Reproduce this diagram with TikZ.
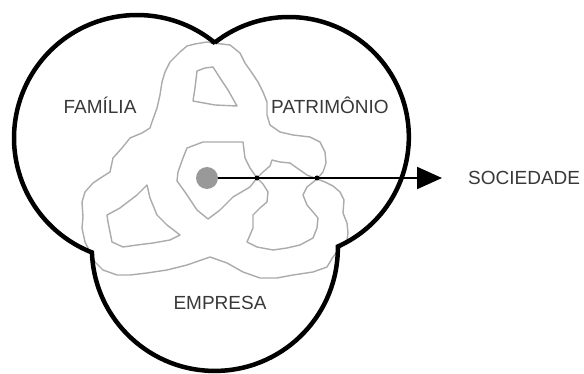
\documentclass[tikz,border=0pt]{standalone}
\usepackage{fontspec}
\setmainfont{Liberation Sans}
\usetikzlibrary{calc,arrows.meta,positioning}
\tikzset{
    circulo/.style={draw,line width=4.5pt,line join=miter},
    lazo/.style={draw=black!33,line width=1.4pt,line join=round},
    rotulo/.style={text=black!78,inner sep=0pt,font=\fontsize{19}{22}\selectfont},
    flecha/.style={draw,line width=2pt,-{Triangle[length=25pt,width=22pt]}},
    punto/.style={circle,fill=black!40,minimum size=22pt,inner sep=0pt},
    cruce/.style={circle,fill,minimum size=5pt,inner sep=0pt},
}
\begin{document}
\begin{tikzpicture}[x=1pt,y=-1pt]
    \useasboundingbox (0,0) rectangle (584,374);
    \coordinate (cfam) at (137,138);
    \coordinate (cpat) at (289,137);
    \coordinate (cemp) at (215,248);

    \path [lazo] (213,43) -- (207,42) -- (195,44) -- (187,46) -- (180,52) -- (170,62) -- (165,72)
        -- (162,82) -- (160,95) -- (157,108) -- (152,122) -- (150,128) -- (142,133) -- (130,138)
        -- (122,148) -- (113,158) -- (110,172) -- (102,177) -- (93,183) -- (85,192) -- (82,202)
        -- (83,217) -- (82,228) -- (85,242) -- (90,252) -- (95,262) -- (103,270) -- (117,275)
        -- (130,275) -- (147,273) -- (167,270) -- (187,265) -- (210,257) -- (227,263) -- (243,272)
        -- (260,278) -- (277,278) -- (293,275) -- (313,272) -- (327,267) -- (333,257) -- (340,248)
        -- (347,240) -- (348,233) -- (347,223) -- (343,213) -- (344,200) -- (340,192) -- (333,186)
        -- (325,182) -- (317,179) -- (323,172) -- (326,163) -- (325,152) -- (320,142) -- (310,137)
        -- (293,135) -- (280,132) -- (270,125) -- (267,115) -- (267,102) -- (263,92) -- (258,82)
        -- (252,73) -- (245,63) -- (240,53) -- (230,45) -- cycle;
    \path [lazo] (187,148) -- (203,142) -- (220,142) -- (243,142) -- (245,158) -- (250,168)
        -- (257,178) -- (250,187) -- (233,197) -- (220,210) -- (208,219) -- (197,210) -- (185,192)
        -- (177,181) -- (178,172) -- (183,158) -- cycle;
    \path [lazo] (257,178) -- (263,184) -- (268,192) -- (267,202) -- (260,208) -- (253,215)
        -- (253,228) -- (250,235) -- (247,242) -- (257,247) -- (273,250) -- (287,248) -- (300,245)
        -- (313,238) -- (317,228) -- (318,218) -- (313,212) -- (307,205) -- (303,195) -- (307,187)
        -- (317,179) -- (307,175) -- (297,168) -- (290,163) -- (280,162) -- (272,160) -- (270,166)
        -- (263,172) -- cycle;
    \path [lazo] (197,71) -- (205,68) -- (213,67) -- (220,78) -- (228,90) -- (237,106) -- (215,105)
        -- (193,101) -- (195,88) -- cycle;
    \path [lazo] (147,185) -- (150,198) -- (157,215) -- (167,225) -- (180,235) -- (170,240)
        -- (153,243) -- (137,245) -- (123,247) -- (112,242) -- (110,232) -- (108,222) -- (107,215)
        -- (120,208) -- (137,195) -- cycle;

    \path [circulo] ($(cfam)+(-50.6:123)$) arc[start angle=-50.6,end angle=-248.5,radius=123]
        arc[start angle=177.9,end angle=-0.65,radius=123]
        arc[start angle=65.9,end angle=-128.2,radius=120] -- cycle;

    \node [rotulo,anchor=base] (fam) at (100,114) {FAMÍLIA};
    \node [rotulo,anchor=base] (pat) at (330,114) {PATRIMÔNIO};
    \node [rotulo,anchor=base] (emp) at (220,309) {EMPRESA};

    \node [punto] (soc0) at (207,178) {};
    \coordinate (tip) at (442,178);
    \path [flecha] (soc0) -- (tip);
    \node [cruce] (cr1) at (257,178) {};
    \node [cruce] (cr2) at (317,178) {};
    \node [rotulo,right=26pt of tip] (soc) {SOCIEDADE};
\end{tikzpicture}
\end{document}
